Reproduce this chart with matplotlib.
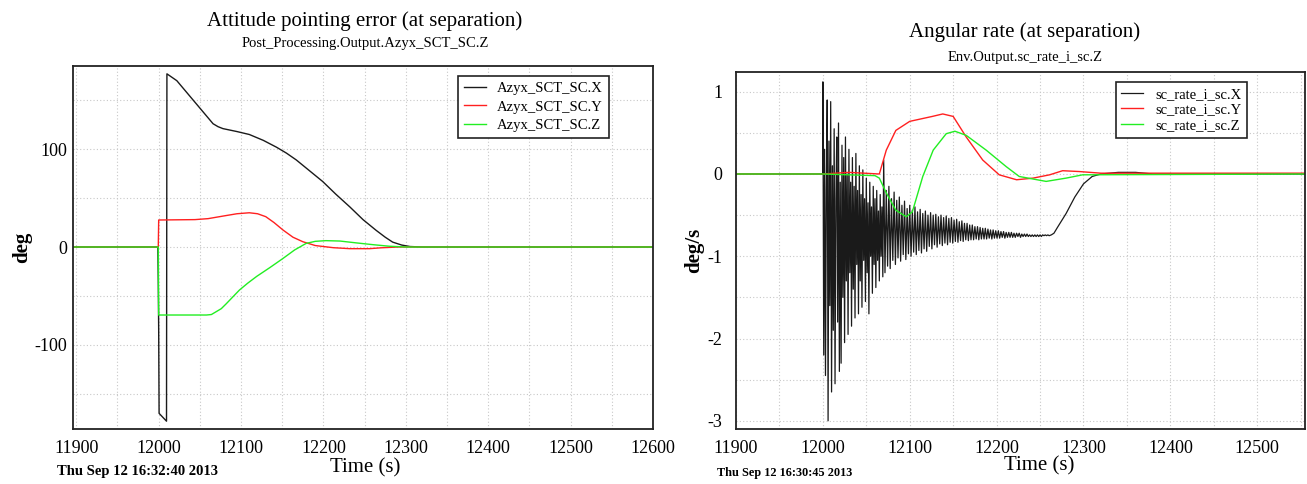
import numpy as np
import matplotlib
matplotlib.use("Agg")
import matplotlib.pyplot as plt
from matplotlib.ticker import MultipleLocator

plt.rcParams['font.family'] = ['Liberation Serif', 'DejaVu Serif']
plt.rcParams['axes.unicode_minus'] = False

# ---------------- left panel: attitude pointing error (deg) ----------------
t_x = [11896, 11999, 11999.5, 12000, 12000.5, 12009.5, 12010, 12022, 12032, 12042,
       12054, 12066, 12072, 12078, 12095, 12110, 12127, 12143, 12155, 12167,
       12183, 12199, 12215, 12232, 12248, 12264, 12275, 12284, 12295, 12305,
       12320, 12600]
azyx_x = [0, 0, -35, -85, -170, -178, 177, 170, 160, 150,
          138, 126, 123, 121, 118, 115, 109, 102, 96, 89,
          78, 67, 54, 41, 28, 17, 10, 5, 2, 0.5,
          0, 0]

t_y = [11896, 11999.5, 12000, 12044, 12060, 12078, 12095, 12110, 12120, 12130,
       12140, 12151, 12163, 12175, 12190, 12212, 12232, 12256, 12270, 12290,
       12600]
azyx_y = [0, 0, 27.6, 28, 29, 31.6, 34, 35, 34, 31,
          25, 17.3, 10, 5.4, 1.5, -0.7, -1.7, -1.7, -0.8, 0,
          0]

t_z = [11896, 11999.5, 12000, 12058, 12064, 12070, 12076, 12082, 12090, 12098,
       12108, 12119, 12135, 12151, 12165, 12179, 12190, 12203, 12220, 12240,
       12260, 12280, 12300, 12600]
azyx_z = [0, 0, -69.5, -69.5, -69, -66, -63, -58, -51, -44,
          -37, -30, -21, -11.6, -3, 3.7, 5.8, 6.5, 6.1, 4.2,
          2.4, 0.8, 0, 0]

# ---------------- right panel: angular rate (deg/s) ----------------
# X rate just after separation, one sample per second from t = 12000 s
rate_x_a = [
    1.12, -2.2, 0.3, -2.45, -0.2, 0.9, -3.0, 0.4, -1.6, 0.88,
    -2.65, 0.1, -1.9, 0.55, -2.55, -0.3, 0.45, -1.8, 0.62, -2.4,
    -0.1, -2.3, 0.35, -1.5, 0.2, -2.05, 0.45, -1.3, 0.0, -1.95,
    0.3, -1.2, -0.1, -1.85, 0.2, -1.4, -0.15, -1.75, 0.25, -1.1,
    -0.2, -1.7, 0.1, -1.3, -0.25, -1.62, 0.05, -1.05, -0.3, -1.55,
    -0.05, -1.2, -0.35, -1.7, -0.1, -1.0, -0.4, -1.45, -0.15, -1.1,
    -0.3, -1.38, -0.2, -1.05, -0.45, -1.3, -0.25, -1.0, -0.4, -1.25,
]
# X rate afterwards, one sample every 1.5 s from t = 12070 s
rate_x_b = [
    0.17, -1.2, -0.2, -1.12, -0.15, -1.15, -0.3, -1.05, -0.22, -1.1,
    -0.32, -1.02, -0.28, -1.06, -0.38, -0.98, -0.33, -1.04, -0.42, -0.97,
    -0.38, -1.0, -0.44, -0.95, -0.4, -0.98, -0.46, -0.93, -0.43, -0.96,
    -0.48, -0.91, -0.45, -0.94, -0.5, -0.88, -0.47, -0.91, -0.5, -0.86,
    -0.49, -0.89, -0.52, -0.85, -0.5, -0.87, -0.53, -0.84, -0.51, -0.86,
    -0.54, -0.83, -0.53, -0.84, -0.56, -0.82, -0.55, -0.83, -0.58, -0.81,
    -0.57, -0.82, -0.6, -0.8, -0.6, -0.81, -0.62, -0.8, -0.62, -0.8,
    -0.64, -0.79, -0.64, -0.8, -0.65, -0.79, -0.66, -0.79, -0.66, -0.79,
    -0.67, -0.78, -0.68, -0.79, -0.68, -0.78, -0.69, -0.78, -0.69, -0.78,
    -0.7, -0.77, -0.7, -0.78, -0.71, -0.77, -0.71, -0.77, -0.71, -0.77,
    -0.72, -0.77, -0.72, -0.76, -0.72, -0.77, -0.73, -0.76, -0.73, -0.76,
    -0.73, -0.76, -0.74, -0.76, -0.74, -0.76, -0.74, -0.76, -0.74, -0.76,
    -0.74, -0.76, -0.74, -0.75, -0.74, -0.75, -0.74, -0.75,
]
t_x_pre = [11900, 11999.9]
rate_x_pre = [0, 0]
t_x_post = [12263, 12266, 12270, 12280, 12290, 12300, 12310, 12320, 12340, 12360, 12380, 12555]
rate_x_post = [-0.74, -0.72, -0.65, -0.48, -0.28, -0.12, -0.03, 0.0, 0.02, 0.02, 0.0, 0.0]

t_ry = [11900, 12000, 12030, 12065, 12073, 12084, 12100, 12126, 12138, 12150,
        12165, 12184, 12203, 12223, 12242, 12261, 12276, 12295, 12320, 12555]
rate_y = [0, 0, 0.02, 0.0, 0.29, 0.53, 0.64, 0.70, 0.73, 0.70,
          0.45, 0.17, -0.01, -0.07, -0.05, -0.01, 0.04, 0.03, 0.01, 0.01]

t_rz = [11900, 12000, 12060, 12065, 12073, 12084, 12096, 12103, 12115, 12127,
        12142, 12152, 12165, 12188, 12211, 12226, 12257, 12280, 12299, 12555]
rate_z = [0, 0, -0.02, -0.05, -0.23, -0.44, -0.52, -0.46, -0.03, 0.29,
          0.49, 0.52, 0.47, 0.29, 0.09, -0.03, -0.09, -0.05, -0.01, 0]

t_a = 12000 + 1.0 * np.arange(len(rate_x_a))
t_b = 12070 + 1.5 * np.arange(len(rate_x_b))
t_rx = np.concatenate([t_x_pre, t_a, t_b, t_x_post])
rate_x = np.concatenate([rate_x_pre, rate_x_a, rate_x_b, rate_x_post])

BLACK, RED, GREEN = '#1a1a1a', '#ff2020', '#22ee22'

fig = plt.figure(figsize=(13.07, 4.84), dpi=100)


def style_axes(ax, xmaj, xmin, ymaj, ymin, ypad):
    ax.xaxis.set_major_locator(MultipleLocator(xmaj))
    ax.xaxis.set_minor_locator(MultipleLocator(xmin))
    ax.yaxis.set_major_locator(MultipleLocator(ymaj))
    ax.yaxis.set_minor_locator(MultipleLocator(ymin))
    ax.grid(True, which='both', linestyle=(0, (1, 2)), color='#c8c8c8', linewidth=0.8)
    ax.tick_params(which='both', length=0)
    ax.tick_params(axis='x', pad=8, labelsize=13)
    ax.tick_params(axis='y', pad=ypad, labelsize=13)
    for s in ax.spines.values():
        s.set_linewidth(1.3)
        s.set_color('#222222')


def add_legend(ax, anchor, spacing):
    leg = ax.legend(loc='upper right', bbox_to_anchor=anchor, borderaxespad=0,
                    fontsize=10.5, fancybox=False, framealpha=1, edgecolor='#222222',
                    handlelength=1.5, handletextpad=0.8, labelspacing=spacing)
    leg.get_frame().set_linewidth(1.2)


# left axes
ax1 = fig.add_axes([73 / 1307, 55 / 484, 580 / 1307, 363 / 484])
ax1.plot(t_x, azyx_x, color=BLACK, lw=1.0, label='Azyx_SCT_SC.X')
ax1.plot(t_y, azyx_y, color=RED, lw=1.0, label='Azyx_SCT_SC.Y')
ax1.plot(t_z, azyx_z, color=GREEN, lw=1.0, label='Azyx_SCT_SC.Z')
ax1.set_xlim(11896, 12600)
ax1.set_ylim(-186, 185)
style_axes(ax1, 100, 50, 100, 50, 4)
ax1.set_ylabel('deg', fontsize=15, fontweight='bold', labelpad=2)
add_legend(ax1, (0.924, 0.972), 0.35)

# right axes
ax2 = fig.add_axes([736 / 1307, 55 / 484, 569 / 1307, 357 / 484])
ax2.plot(t_rx, rate_x, color=BLACK, lw=0.9, label='sc_rate_i_sc.X')
ax2.plot(t_ry, rate_y, color=RED, lw=1.0, label='sc_rate_i_sc.Y')
ax2.plot(t_rz, rate_z, color=GREEN, lw=1.0, label='sc_rate_i_sc.Z')
ax2.set_xlim(11900, 12555)
ax2.set_ylim(-3.1, 1.24)
style_axes(ax2, 100, 50, 1, 0.5, 10)
ax2.set_ylabel('deg/s', fontsize=15, fontweight='bold', labelpad=2)
add_legend(ax2, (0.898, 0.972), 0.15)

# titles and footer text
fig.text(365 / 1307, 1 - 21 / 484, 'Attitude pointing error (at separation)',
         ha='center', va='center', fontsize=15)
fig.text(365 / 1307, 1 - 44 / 484, 'Post_Processing.Output.Azyx_SCT_SC.Z',
         ha='center', va='center', fontsize=10.5)
fig.text(1025 / 1307, 1 - 32 / 484, 'Angular rate (at separation)',
         ha='center', va='center', fontsize=15)
fig.text(1025 / 1307, 1 - 57 / 484, 'Env.Output.sc_rate_i_sc.Z',
         ha='center', va='center', fontsize=10.5)

fig.text(365 / 1307, 1 - 468 / 484, 'Time (s)', ha='center', va='center', fontsize=15)
fig.text(1039 / 1307, 1 - 466 / 484, 'Time (s)', ha='center', va='center', fontsize=15)
fig.text(57 / 1307, 1 - 472 / 484, 'Thu Sep 12 16:32:40 2013', ha='left', va='center',
         fontsize=10.5, fontweight='bold')
fig.text(717 / 1307, 1 - 473 / 484, 'Thu Sep 12 16:30:45 2013', ha='left', va='center',
         fontsize=8.8, fontweight='bold')

fig.savefig('out.png', dpi=100)
